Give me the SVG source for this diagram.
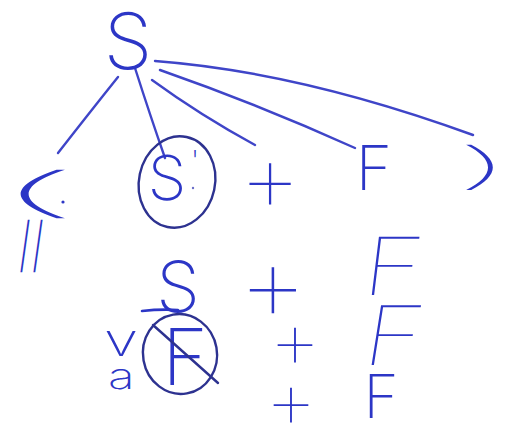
<svg xmlns="http://www.w3.org/2000/svg" width="516" height="445" viewBox="0 0 516 445">
<style>
.t{font-family:Inter,"Liberation Sans",sans-serif;font-weight:200;fill:#2c36c6;}
.l{font-weight:100;}
.s{fill:none;stroke:#2c36c6;stroke-width:2.6;stroke-linecap:round;stroke-linejoin:round;}
.c{fill:none;stroke:#2d3290;stroke-width:2.4;stroke-linecap:round;}
.e{stroke:#3f45c8;stroke-width:2.4;fill:none;stroke-linecap:round;}
</style>
<rect width="516" height="445" fill="#ffffff"/>
<g id="connectors">
<path class="e" d="M118,77 Q90,112 58,153"/>
<path class="e" d="M135,68 Q150,115 165,158"/>
<path class="e" d="M152,80 Q200,115 255,145"/>
<path class="e" d="M160,70 Q260,105 355,148"/>
<path class="e" d="M155,61 Q300,72 473,135"/>
</g>
<g id="node-S-root"><text class="t" x="128" y="69" font-size="78" text-anchor="middle">S</text></g>
<g id="node-lparen">
<text class="t l" x="0" y="0" font-size="62" transform="translate(-19,211) scale(5.5,0.86)">(</text>
<circle cx="63" cy="202" r="1.6" fill="#2c36c6"/>
</g>
<g id="node-bars"><text class="t" x="32" y="262" font-size="44" text-anchor="middle" transform="skewX(-8) translate(34,0)">||</text></g>
<g id="node-S1">
<ellipse class="c" cx="177" cy="182" rx="38" ry="46" transform="rotate(12 177 182)"/>
<text class="t" x="167" y="200" font-size="62" text-anchor="middle">S</text>
<text class="t" x="195" y="172" font-size="30" text-anchor="middle">'</text>
<circle cx="193" cy="188" r="1.2" fill="#6a6ec8"/>
</g>
<g id="node-plus1"><text class="t l" x="270" y="212" font-size="100" text-anchor="middle">+</text></g>
<g id="node-F1"><text class="t" x="374" y="190" font-size="62" text-anchor="middle">F</text></g>
<g id="node-rparen"><text class="t l" x="0" y="0" font-size="54" transform="translate(452,183) scale(3.8,0.92)">)</text></g>
<g id="row2">
<text class="t" x="178" y="312" font-size="70" text-anchor="middle">S</text>
<path class="s" d="M142,311 Q160,309 178,310"/>
<text class="t l" x="273" y="322" font-size="112" text-anchor="middle">+</text>
<text class="t l" x="0" y="0" font-size="80" transform="translate(360,295) skewX(-7) scale(1.3,1)">F</text>
</g>
<g id="row3">
<ellipse class="c" cx="180" cy="354" rx="37" ry="40" transform="rotate(-10 180 354)"/>
<text class="t" x="185" y="385" font-size="78" text-anchor="middle">F</text>
<path class="c" d="M153,325 L218,383"/>
<text class="t" x="0" y="0" font-size="46" transform="translate(104,356) scale(1.35,1)">v</text>
<text class="t" x="0" y="0" font-size="38" transform="translate(108,389) scale(1.3,0.95)">a</text>
<text class="t l" x="295" y="369" font-size="84" text-anchor="middle">+</text>
<text class="t l" x="0" y="0" font-size="82" transform="translate(360,365) skewX(-9) scale(1.25,1)">F</text>
</g>
<g id="row4">
<text class="t l" x="291" y="429" font-size="84" text-anchor="middle">+</text>
<text class="t" x="381" y="418" font-size="60" text-anchor="middle">F</text>
</g>
</svg>
